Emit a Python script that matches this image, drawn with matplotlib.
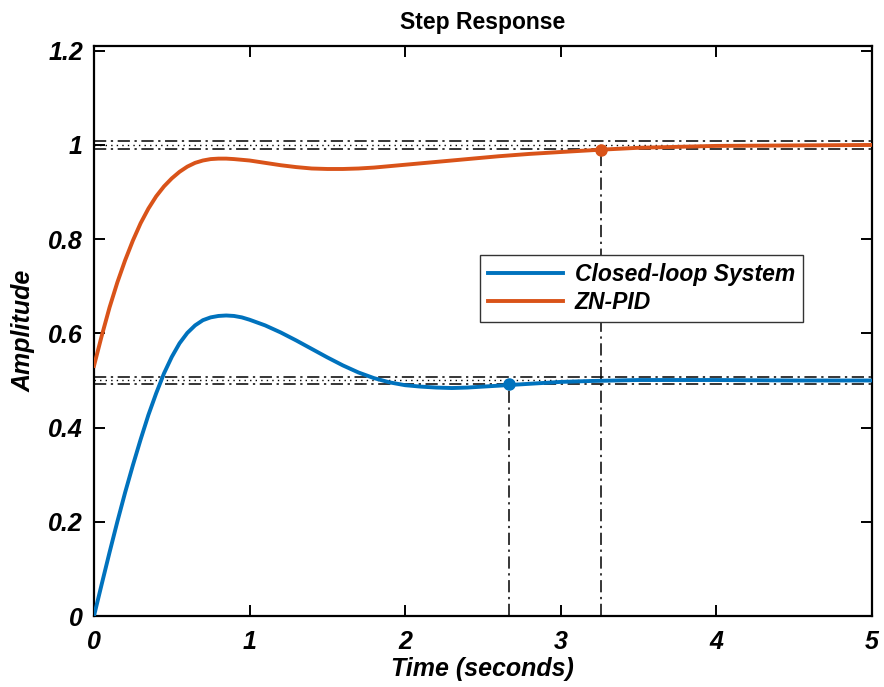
import matplotlib
matplotlib.use('Agg')
import matplotlib.pyplot as plt

# values
t_closed = [0, 0.05, 0.1, 0.15, 0.2, 0.25, 0.3, 0.35, 0.4, 0.45, 0.5, 0.55, 0.6,
            0.65, 0.7, 0.75, 0.8, 0.85, 0.9, 0.95, 1.0, 1.1, 1.2, 1.3, 1.4, 1.5,
            1.6, 1.7, 1.8, 1.9, 2.0, 2.1, 2.2, 2.3, 2.4, 2.5, 2.6, 2.7, 2.8, 3.0,
            3.2, 3.5, 4.0, 4.5, 5.0]
y_closed = [0, 0.068, 0.135, 0.200, 0.262, 0.320, 0.375, 0.427, 0.473, 0.515,
            0.550, 0.579, 0.601, 0.617, 0.628, 0.634, 0.637, 0.638, 0.637, 0.634,
            0.629, 0.617, 0.602, 0.585, 0.567, 0.549, 0.532, 0.517, 0.505, 0.496,
            0.490, 0.487, 0.485, 0.484, 0.485, 0.487, 0.489, 0.491, 0.493, 0.497,
            0.499, 0.501, 0.501, 0.500, 0.500]

t_pid = [0, 0.05, 0.1, 0.15, 0.2, 0.25, 0.3, 0.35, 0.4, 0.45, 0.5, 0.55, 0.6,
         0.65, 0.7, 0.75, 0.8, 0.85, 0.9, 1.0, 1.1, 1.2, 1.3, 1.4, 1.5, 1.6,
         1.7, 1.8, 1.9, 2.0, 2.2, 2.4, 2.6, 2.8, 3.0, 3.26, 3.5, 4.0, 4.5, 5.0]
y_pid = [0.531, 0.595, 0.655, 0.708, 0.755, 0.797, 0.834, 0.865, 0.891, 0.912,
         0.929, 0.943, 0.954, 0.962, 0.967, 0.970, 0.971, 0.971, 0.970, 0.967,
         0.962, 0.957, 0.953, 0.950, 0.949, 0.949, 0.950, 0.952, 0.955, 0.958,
         0.964, 0.970, 0.976, 0.981, 0.985, 0.990, 0.994, 0.998, 0.999, 1.000]

# settling time markers and bands
ts_closed, ys_closed = 2.67, 0.492
ts_pid, ys_pid = 3.26, 0.990
band_closed = [0.492, 0.508]
band_pid = [0.991, 1.008]

blue = '#0072BD'
orange = '#D95319'

plt.rcParams['font.family'] = ['Liberation Sans', 'DejaVu Sans']

fig = plt.figure(figsize=(8.84, 6.87), dpi=100)
ax = fig.add_axes([0.1063, 0.1033, 0.880, 0.8297])

dd = (8, 3, 1.5, 3)
# band lines (dash-dot with dotted centre)
for lo, hi in [band_closed, band_pid]:
    for yy in (lo, hi):
        ax.axhline(yy, color='black', lw=1.1, ls='-.', dashes=dd)
    ax.axhline((lo + hi) / 2, color='black', lw=1.0, ls=':', dashes=(1, 3))

ax.plot(t_closed, y_closed, color=blue, lw=2.8, label='Closed-loop System',
        zorder=3, solid_joinstyle='round')
ax.plot(t_pid, y_pid, color=orange, lw=2.8, label='ZN-PID', zorder=3,
        solid_joinstyle='round')

# settling time vertical lines and markers
ax.plot([ts_closed, ts_closed], [0, ys_closed], color='black', lw=1.1,
        ls='-.', dashes=dd)
ax.plot([ts_pid, ts_pid], [0, ys_pid], color='black', lw=1.1, ls='-.', dashes=dd)
ax.plot(ts_closed, ys_closed, 'o', color=blue, ms=8, zorder=4)
ax.plot(ts_pid, ys_pid, 'o', color=orange, ms=8, zorder=4)

ax.set_xlim(0, 5)
ax.set_ylim(0, 1.21)
ax.set_xticks([0, 1, 2, 3, 4, 5])
ax.set_xticklabels(['0', '1', '2', '3', '4', '5'])
ax.set_yticks([0, 0.2, 0.4, 0.6, 0.8, 1.0, 1.2])
ax.set_yticklabels(['0', '0.2', '0.4', '0.6', '0.8', '1', '1.2'])

for s in ax.spines.values():
    s.set_linewidth(1.6)
ax.tick_params(direction='in', length=8, width=1.4, top=True, right=True,
               labelsize=18)
ax.tick_params(axis='x', pad=10)
ax.tick_params(axis='y', pad=8)
for lab in ax.get_xticklabels() + ax.get_yticklabels():
    lab.set_fontweight('bold')
    lab.set_fontstyle('italic')

ax.set_xlabel('Time (seconds)', fontsize=18, fontweight='bold', fontstyle='italic',
              labelpad=2)
ax.set_ylabel('Amplitude', fontsize=18, fontweight='bold', fontstyle='italic',
              labelpad=9)
ax.set_title('Step Response', fontsize=16.5, fontweight='bold', pad=12)

leg = ax.legend(loc='upper left', bbox_to_anchor=(0.496, 0.633), fancybox=False,
                framealpha=1, edgecolor='#333333', handlelength=3.3,
                prop={'weight': 'bold', 'style': 'italic', 'size': 16.5},
                borderpad=0.35, labelspacing=0.2, borderaxespad=0,
                handletextpad=0.5)
leg.get_frame().set_linewidth(1.0)

fig.savefig('out.png', dpi=100)
